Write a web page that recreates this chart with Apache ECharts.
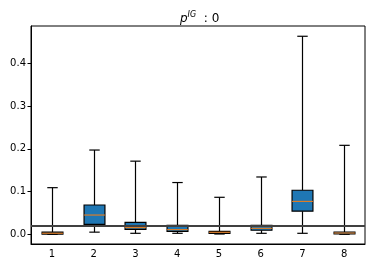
<!DOCTYPE html>
<html>
<head>
<meta charset="utf-8">
<script src="https://cdn.jsdelivr.net/npm/echarts@6/dist/echarts.min.js"></script>
<style>html,body{margin:0;padding:0;background:#fff}#c{width:372px;height:268px}</style>
</head>
<body>
<div id="c"></div>
<script>
var categories = ['1', '2', '3', '4', '5', '6', '7', '8'];
var whiskerLow = [0.0, 0.005, 0.0023, 0.0023, 0.0007, 0.0023, 0.0023, 0.0];
var q1 = [0.0005, 0.0234, 0.0117, 0.007, 0.002, 0.0094, 0.054, 0.0007];
var median = [0.0025, 0.045, 0.0155, 0.0108, 0.0047, 0.014, 0.077, 0.003];
var q3 = [0.005, 0.0685, 0.028, 0.021, 0.007, 0.021, 0.103, 0.0054];
var whiskerHigh = [0.109, 0.197, 0.171, 0.121, 0.0865, 0.134, 0.463, 0.208];
var yTicks = [0.0, 0.1, 0.2, 0.3, 0.4];
var refLine = 0.0154;

var data = categories.map(function (c, i) {
  return [i, whiskerLow[i], q1[i], median[i], q3[i], whiskerHigh[i]];
});

function renderItem(params, api) {
  var x = api.value(0);
  var pLow = api.coord([x, api.value(1)]);
  var pQ1 = api.coord([x, api.value(2)]);
  var pMed = api.coord([x, api.value(3)]);
  var pQ3 = api.coord([x, api.value(4)]);
  var pHigh = api.coord([x, api.value(5)]);
  var bw = api.size([1, 0])[0] * 0.5;
  var cw = bw * 0.5;
  var cx = Math.round(pMed[0]) + 0.5;
  var lineStyle = { stroke: '#000', lineWidth: 1.2, fill: null };
  return {
    type: 'group',
    children: [
      { type: 'line', shape: { x1: cx, y1: pQ3[1], x2: cx, y2: pHigh[1] }, style: lineStyle },
      { type: 'line', shape: { x1: cx, y1: pQ1[1], x2: cx, y2: pLow[1] }, style: lineStyle },
      { type: 'line', shape: { x1: cx - cw / 2, y1: pHigh[1], x2: cx + cw / 2, y2: pHigh[1] }, style: lineStyle },
      { type: 'line', shape: { x1: cx - cw / 2, y1: pLow[1], x2: cx + cw / 2, y2: pLow[1] }, style: lineStyle },
      { type: 'rect', shape: { x: cx - bw / 2, y: pQ3[1], width: bw, height: pQ1[1] - pQ3[1] },
        style: { fill: '#1f77b4', stroke: '#000', lineWidth: 1.2 } },
      { type: 'line', shape: { x1: cx - bw / 2, y1: pMed[1], x2: cx + bw / 2, y2: pMed[1] },
        style: { stroke: '#ff7f0e', lineWidth: 1 } }
    ]
  };
}

var chart = echarts.init(document.getElementById('c'), null, { renderer: 'canvas' });
chart.setOption({
  animation: false,
  backgroundColor: '#fff',
  textStyle: { fontFamily: 'DejaVu Sans' },
  title: {
    left: 175,
    top: 6,
    text: '{p|p}{s|IG}{n|  : 0}',
    textStyle: {
      fontWeight: 'normal',
      rich: {
        p: { fontFamily: 'DejaVu Sans', fontStyle: 'italic', fontWeight: 'normal', fontSize: 12, color: '#000', verticalAlign: 'bottom' },
        s: { fontFamily: 'DejaVu Sans', fontStyle: 'italic', fontWeight: 'normal', fontSize: 8, color: '#000', verticalAlign: 'top', padding: [0, 0, 6, 0] },
        n: { fontFamily: 'DejaVu Sans', fontWeight: 'normal', fontSize: 12, color: '#000', verticalAlign: 'bottom' }
      }
    }
  },
  grid: { left: 31, right: 7, top: 26, bottom: 24, show: true, borderColor: '#000', borderWidth: 1, backgroundColor: 'transparent' },
  xAxis: {
    type: 'category',
    data: categories,
    boundaryGap: true,
    axisLine: { onZero: false, lineStyle: { color: '#000', width: 1 } },
    axisTick: { alignWithLabel: true, length: 3.5, lineStyle: { color: '#000' } },
    axisLabel: { color: '#000', fontSize: 10, margin: 5, fontFamily: 'DejaVu Sans' },
    splitLine: { show: false }
  },
  yAxis: {
    type: 'value',
    min: -0.0227,
    max: 0.487,
    axisLine: { show: true, onZero: false, lineStyle: { color: '#000', width: 1 } },
    axisTick: { show: true, length: 3.5, lineStyle: { color: '#000' }, customValues: yTicks },
    axisLabel: { color: '#000', fontSize: 10, margin: 5, fontFamily: 'DejaVu Sans', customValues: yTicks,
      formatter: function (v) { return v.toFixed(1); } },
    splitLine: { show: false }
  },
  series: [
    {
      type: 'line',
      data: [],
      markLine: {
        silent: true,
        symbol: ['none', 'none'],
        label: { show: false },
        lineStyle: { color: '#404040', width: 2, type: 'solid' },
        data: [{ yAxis: refLine }]
      },
      z: 1
    },
    {
      type: 'custom',
      renderItem: renderItem,
      data: data,
      encode: { x: 0, y: [1, 2, 3, 4, 5] },
      z: 2
    }
  ]
});
</script>
</body>
</html>
